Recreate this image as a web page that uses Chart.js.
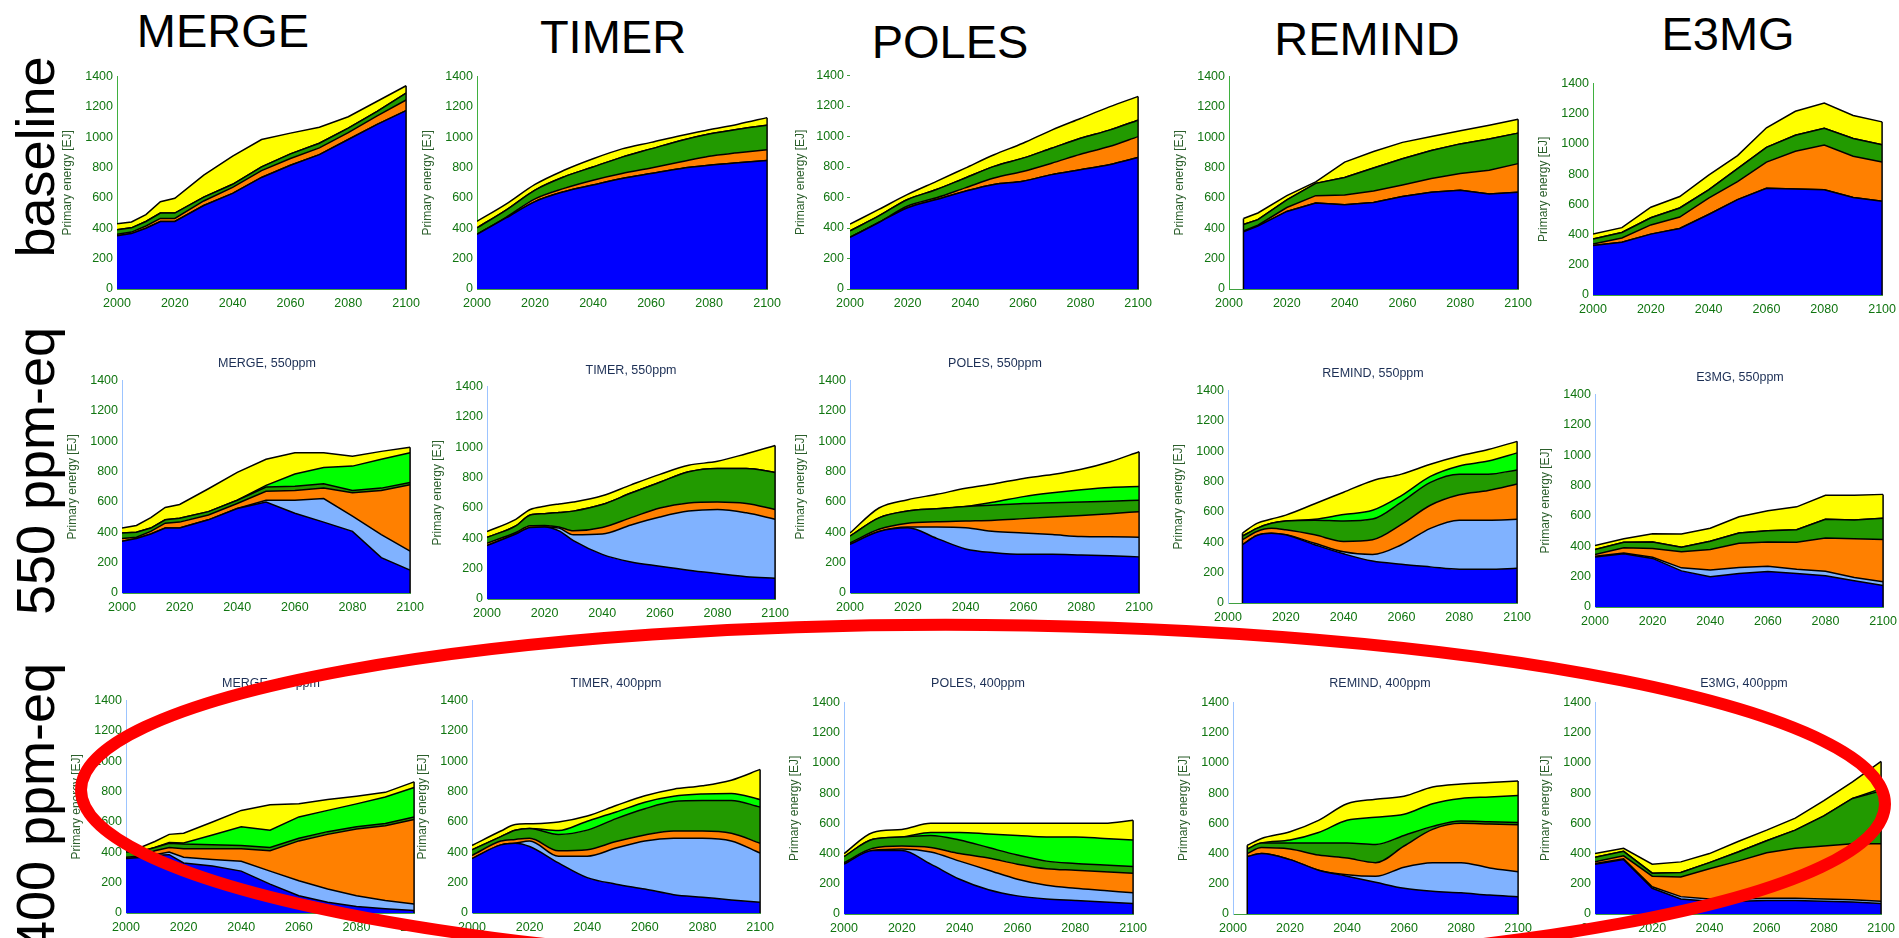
<!DOCTYPE html>
<html>
<head>
<meta charset="utf-8">
<script src="https://cdn.jsdelivr.net/npm/chart.js@4.4.1/dist/chart.umd.min.js"></script>
<style>
  html, body { margin: 0; padding: 0; background: #fff; }
  body { width: 1899px; height: 938px; overflow: hidden; position: relative;
         font-family: "Liberation Sans", Arial, Helvetica, sans-serif; }
  .col { position: absolute; font-size: 47px; line-height: 47px; color: #000;
         white-space: nowrap; transform: translateX(-50%); }
  .row { position: absolute; width: 400px; text-align: center; font-size: 54px;
         line-height: 54px; color: #000; white-space: nowrap;
         transform-origin: 0 0; transform: rotate(-90deg); }
  .sub { position: absolute; font-size: 12.5px; line-height: 14px; color: #1c2f55;
         white-space: nowrap; transform: translate(-50%, -50%); }
  .panel { position: absolute; }
  #ring { position: absolute; left: 0; top: 0; pointer-events: none; z-index: 5; }
</style>
</head>
<body>
<div class="col" style="left:223px;top:7px">MERGE</div>
<div class="col" style="left:613px;top:13px">TIMER</div>
<div class="col" style="left:950px;top:18px">POLES</div>
<div class="col" style="left:1367px;top:15px">REMIND</div>
<div class="col" style="left:1728px;top:10px">E3MG</div>

<div class="row" style="left:8px;top:357px">baseline</div>
<div class="row" style="left:8px;top:671px">550 ppm-eq</div>
<div class="row" style="left:8px;top:1007px">400 ppm-eq</div>

<div id="panels"></div>
<canvas id="ring" width="1899" height="938"></canvas>

<script>
// Primary energy by source [EJ/yr], stacked bottom to top:
// fossil, fossil with CCS, biomass, non-biomass renewables, biomass with CCS, nuclear

// ---------- MERGE, baseline ----------
const mergeBaseYears   = [2000,2005,2010,2015,2020,2030,2040,2050,2060,2070,2080,2090,2100];
const mergeBaseFossil  = [350,365,400,445,445,550,630,735,815,885,985,1085,1175];
const mergeBaseFosCcs  = [0,0,0,0,0,0,0,0,0,0,0,0,0];
const mergeBaseBiomass = [10,10,15,20,20,30,40,45,45,45,45,55,70];
const mergeBaseRenew   = [30,28,30,35,35,25,20,25,30,30,30,30,45];
const mergeBaseBioCcs  = [0,0,0,0,0,0,0,0,0,0,0,0,0];
const mergeBaseNuclear = [40,39,45,75,98,145,185,180,137,106,75,67,49];

// ---------- TIMER, baseline ----------
const timerBaseYears   = [2000,2010,2020,2030,2040,2050,2060,2070,2080,2090,2100];
const timerBaseFossil  = [360,468,576,641,685,728,761,793,815,832,847];
const timerBaseFosCcs  = [0,0,0,0,0,0,0,0,0,0,0];
const timerBaseBiomass = [0,4,18,22,32,33,36,43,60,65,70];
const timerBaseRenew   = [43,48,58,76,87,108,126,141,146,156,162];
const timerBaseBioCcs  = [0,0,0,0,0,0,0,0,0,0,0];
const timerBaseNuclear = [43,39,37,43,54,54,43,33,28,33,50];

// ---------- POLES, baseline ----------
const polesBaseYears   = [2000,2010,2020,2030,2040,2050,2060,2070,2080,2090,2100];
const polesBaseFossil  = [338,436,533,587,641,685,707,750,782,815,862];
const polesBaseFosCcs  = [0,0,0,0,0,0,0,0,0,0,0];
const polesBaseBiomass = [0,0,11,11,22,43,64,75,102,119,137];
const polesBaseRenew   = [43,43,43,54,65,76,87,98,104,108,108];
const polesBaseBioCcs  = [0,0,0,0,0,0,0,0,0,0,0];
const polesBaseNuclear = [44,43,33,54,65,76,98,119,130,152,156];

// ---------- REMIND, baseline ----------
const remindBaseYears   = [2005,2010,2020,2030,2040,2050,2060,2070,2080,2090,2100];
const remindBaseFossil  = [377,414,511,566,555,570,609,637,650,626,637];
const remindBaseFosCcs  = [0,0,0,0,0,0,0,0,0,0,0];
const remindBaseBiomass = [5,6,26,49,65,76,76,91,111,156,189];
const remindBaseRenew   = [43,37,50,81,115,151,173,184,195,206,201];
const remindBaseBioCcs  = [0,0,0,0,0,0,0,0,0,0,0];
const remindBaseNuclear = [39,44,28,10,101,109,108,93,86,91,91];

// ---------- E3MG, baseline ----------
const e3mgBaseYears   = [2000,2010,2020,2030,2040,2050,2060,2070,2080,2090,2100];
const e3mgBaseFossil  = [327,349,403,440,533,631,707,702,696,646,620];
const e3mgBaseFosCcs  = [0,0,0,0,0,0,0,0,0,0,0];
const e3mgBaseBiomass = [11,28,61,76,108,119,173,249,296,273,260];
const e3mgBaseRenew   = [33,37,47,60,55,86,97,106,111,117,115];
const e3mgBaseBioCcs  = [0,0,0,0,0,0,0,0,0,0,0];
const e3mgBaseNuclear = [32,32,70,76,97,87,130,159,167,152,151];

// ---------- MERGE, 550 ppm ----------
const merge550Years   = [2000,2005,2010,2015,2020,2030,2040,2050,2060,2070,2080,2090,2100];
const merge550Fossil  = [341,359,389,428,428,482,557,600,525,467,406,233,151];
const merge550FosCcs  = [0,0,0,0,0,0,0,11,86,155,100,152,125];
const merge550Biomass = [18,8,17,32,39,32,33,59,65,69,155,291,437];
const merge550Renew   = [36,33,22,22,25,22,21,28,28,28,15,15,15];
const merge550BioCcs  = [0,0,0,0,0,0,0,11,80,108,160,190,196];
const merge550Nuclear = [33,45,69,82,91,151,184,172,140,97,65,52,37];

// ---------- TIMER, 550 ppm ----------
const timer550Years   = [2000,2010,2015,2020,2025,2030,2040,2050,2060,2070,2080,2090,2100];
const timer550Fossil  = [352,428,471,475,449,384,294,244,216,190,168,147,136];
const timer550FosCcs  = [0,0,0,0,18,39,134,244,324,389,422,421,389];
const timer550Biomass = [15,10,11,10,8,26,43,48,60,54,49,61,65];
const timer550Renew   = [39,44,71,77,95,130,151,162,169,205,221,231,244];
const timer550BioCcs  = [0,0,0,0,0,0,0,0,0,0,0,0,0];
const timer550Nuclear = [39,43,37,49,56,60,58,54,52,43,47,97,177];

// ---------- POLES, 550 ppm ----------
const poles550Years   = [2000,2010,2020,2030,2040,2050,2060,2070,2080,2090,2100];
const poles550Fossil  = [320,405,430,360,290,265,255,255,250,245,238];
const poles550FosCcs  = [0,0,5,75,140,140,140,130,122,125,130];
const poles550Biomass = [10,15,25,35,45,75,95,115,138,152,168];
const poles550Renew   = [45,75,80,85,95,100,100,95,90,83,75];
const poles550BioCcs  = [0,0,0,0,0,20,45,65,80,90,90];
const poles550Nuclear = [20,65,75,95,120,120,120,120,135,170,230];

// ---------- REMIND, 550 ppm ----------
const remind550Years   = [2005,2010,2015,2020,2030,2040,2050,2060,2070,2080,2090,2100];
const remind550Fossil  = [384,445,460,449,384,324,276,255,238,222,222,229];
const remind550FosCcs  = [0,0,0,0,10,13,44,129,254,324,324,322];
const remind550Biomass = [33,26,32,33,55,69,97,134,152,167,195,233];
const remind550Renew   = [23,21,33,58,97,134,136,147,151,136,108,93];
const remind550BioCcs  = [0,0,0,0,5,43,58,43,39,54,86,112];
const remind550Nuclear = [20,33,28,39,103,147,195,141,80,65,76,76];

// ---------- E3MG, 550 ppm ----------
const e3mg550Years   = [2000,2010,2020,2030,2040,2050,2060,2070,2080,2090,2100];
const e3mg550Fossil  = [329,351,320,238,199,221,234,221,206,173,141];
const e3mg550FosCcs  = [5,5,8,20,45,40,35,28,30,22,25];
const e3mg550Biomass = [12,34,57,106,135,159,159,177,218,255,278];
const e3mg550Renew   = [33,36,43,30,54,67,74,83,124,123,140];
const e3mg550BioCcs  = [0,0,0,0,0,0,0,0,0,0,0];
const e3mg550Nuclear = [26,24,55,87,86,108,132,151,158,163,158];

// ---------- MERGE, 400 ppm ----------
const merge400Years   = [2000,2005,2010,2015,2020,2030,2040,2050,2060,2070,2080,2090,2100];
const merge400Fossil  = [359,365,380,384,330,309,276,190,114,71,43,28,17];
const merge400FosCcs  = [0,0,4,18,37,43,65,86,98,87,71,54,43];
const merge400Biomass = [8,10,26,30,56,71,82,134,263,360,439,493,556];
const merge400Renew   = [35,30,22,28,31,26,22,22,17,18,15,15,17];
const merge400BioCcs  = [0,0,0,5,8,65,123,114,141,140,151,174,194];
const merge400Nuclear = [26,27,39,53,63,86,108,167,86,71,50,31,37];

// ---------- TIMER, 400 ppm ----------
const timer400Years   = [2000,2010,2015,2020,2030,2040,2050,2060,2070,2080,2090,2100];
const timer400Fossil  = [359,449,460,438,330,233,190,158,121,104,86,71];
const timer400FosCcs  = [0,0,0,37,44,141,238,317,371,388,389,324];
const timer400Biomass = [20,25,25,17,36,43,43,39,48,48,50,65];
const timer400Renew   = [38,29,60,65,108,129,151,173,194,201,216,238];
const timer400BioCcs  = [0,0,0,0,25,59,43,43,35,43,47,49];
const timer400Nuclear = [28,37,38,31,57,34,43,43,47,54,87,199];

// ---------- POLES, 400 ppm ----------
const poles400Years   = [2000,2010,2020,2030,2040,2050,2060,2070,2080,2090,2100];
const poles400Fossil  = [330,420,420,330,230,160,120,100,90,80,70];
const poles400FosCcs  = [0,0,10,80,120,130,110,90,80,75,70];
const poles400Biomass = [10,15,20,30,50,80,100,110,120,125,130];
const poles400Renew   = [40,60,60,80,90,70,60,50,45,45,45];
const poles400BioCcs  = [0,0,0,20,50,90,130,160,175,175,175];
const poles400Nuclear = [20,45,50,60,60,70,80,90,90,100,130];

// ---------- REMIND, 400 ppm ----------
const remind400Years   = [2005,2010,2020,2030,2040,2050,2060,2070,2080,2090,2100];
const remind400Fossil  = [380,400,360,290,250,210,170,150,140,125,115];
const remind400FosCcs  = [0,0,0,0,10,40,140,190,200,180,165];
const remind400Biomass = [20,40,70,100,110,90,140,220,260,290,310];
const remind400Renew   = [30,30,40,80,100,120,70,20,15,15,15];
const remind400BioCcs  = [0,0,20,70,150,180,140,150,150,165,180];
const remind400Nuclear = [25,30,55,80,110,120,120,110,95,95,95];

// ---------- E3MG, 400 ppm ----------
const e3mg400Years   = [2000,2010,2020,2030,2040,2050,2060,2070,2080,2090,2100];
const e3mg400Fossil  = [330,360,170,100,85,85,90,90,85,80,70];
const e3mg400FosCcs  = [5,5,10,15,15,15,15,15,15,15,15];
const e3mg400Biomass = [10,20,70,130,200,250,300,330,350,370,380];
const e3mg400Renew   = [30,30,20,30,40,60,80,120,200,300,350];
const e3mg400BioCcs  = [0,0,0,0,0,0,0,0,0,0,15];
const e3mg400Nuclear = [25,20,60,70,60,70,70,80,100,110,180];

// Axis ticks
const xTicksStep = 20;   // 2000, 2020, ... 2100
const yTicksStep = 200;  // 0 ... 1400

// Layer fill colours (same order as the series)
const LAYER_COLORS = ['#0000ff', '#80b2ff', '#ff8000', '#229a00', '#00ff00', '#ffff00'];

// Panel layout: plot-area rectangle [left, top, right, bottom] in page pixels
const panels = [
  { years: mergeBaseYears,  series: [mergeBaseFossil, mergeBaseFosCcs, mergeBaseBiomass, mergeBaseRenew, mergeBaseBioCcs, mergeBaseNuclear], rect: [117, 73, 411, 289], smooth: false, row: 0 },
  { years: timerBaseYears,  series: [timerBaseFossil, timerBaseFosCcs, timerBaseBiomass, timerBaseRenew, timerBaseBioCcs, timerBaseNuclear], rect: [477, 73, 772, 289], smooth: true, row: 0 },
  { years: polesBaseYears,  series: [polesBaseFossil, polesBaseFosCcs, polesBaseBiomass, polesBaseRenew, polesBaseBioCcs, polesBaseNuclear], rect: [850, 73, 1143, 289], smooth: true, row: 0, tickMarks: true },
  { years: remindBaseYears, series: [remindBaseFossil, remindBaseFosCcs, remindBaseBiomass, remindBaseRenew, remindBaseBioCcs, remindBaseNuclear], rect: [1229, 73, 1523, 289], smooth: false, row: 0 },
  { years: e3mgBaseYears,   series: [e3mgBaseFossil, e3mgBaseFosCcs, e3mgBaseBiomass, e3mgBaseRenew, e3mgBaseBioCcs, e3mgBaseNuclear], rect: [1593, 80, 1887, 295], smooth: false, row: 0 },

  { title: 'MERGE, 550ppm',  tpos: [267, 363],  years: merge550Years,  series: [merge550Fossil, merge550FosCcs, merge550Biomass, merge550Renew, merge550BioCcs, merge550Nuclear], rect: [122, 377, 415, 593], smooth: false, row: 1 },
  { title: 'TIMER, 550ppm',  tpos: [631, 370],  years: timer550Years,  series: [timer550Fossil, timer550FosCcs, timer550Biomass, timer550Renew, timer550BioCcs, timer550Nuclear], rect: [487, 383, 780, 599], smooth: true, row: 1 },
  { title: 'POLES, 550ppm',  tpos: [995, 363],  years: poles550Years,  series: [poles550Fossil, poles550FosCcs, poles550Biomass, poles550Renew, poles550BioCcs, poles550Nuclear], rect: [850, 377, 1144, 593], smooth: true, row: 1 },
  { title: 'REMIND, 550ppm', tpos: [1373, 373], years: remind550Years, series: [remind550Fossil, remind550FosCcs, remind550Biomass, remind550Renew, remind550BioCcs, remind550Nuclear], rect: [1228, 387, 1522, 603], smooth: true, row: 1 },
  { title: 'E3MG, 550ppm',   tpos: [1740, 377], years: e3mg550Years,   series: [e3mg550Fossil, e3mg550FosCcs, e3mg550Biomass, e3mg550Renew, e3mg550BioCcs, e3mg550Nuclear], rect: [1595, 391, 1888, 607], smooth: false, row: 1 },

  { title: 'MERGE, 400ppm',  tpos: [271, 683],  years: merge400Years,  series: [merge400Fossil, merge400FosCcs, merge400Biomass, merge400Renew, merge400BioCcs, merge400Nuclear], rect: [126, 697, 419, 913], smooth: false, row: 2 },
  { title: 'TIMER, 400ppm',  tpos: [616, 683],  years: timer400Years,  series: [timer400Fossil, timer400FosCcs, timer400Biomass, timer400Renew, timer400BioCcs, timer400Nuclear], rect: [472, 697, 765, 913], smooth: true, row: 2 },
  { title: 'POLES, 400ppm',  tpos: [978, 683],  years: poles400Years,  series: [poles400Fossil, poles400FosCcs, poles400Biomass, poles400Renew, poles400BioCcs, poles400Nuclear], rect: [844, 699, 1138, 914], smooth: true, row: 2 },
  { title: 'REMIND, 400ppm', tpos: [1380, 683], years: remind400Years, series: [remind400Fossil, remind400FosCcs, remind400Biomass, remind400Renew, remind400BioCcs, remind400Nuclear], rect: [1233, 699, 1523, 914], smooth: true, row: 2 },
  { title: 'E3MG, 400ppm',   tpos: [1744, 683], years: e3mg400Years,   series: [e3mg400Fossil, e3mg400FosCcs, e3mg400Biomass, e3mg400Renew, e3mg400BioCcs, e3mg400Nuclear], rect: [1595, 699, 1886, 914], smooth: false, row: 2 }
];

const FONT = '"Liberation Sans", Arial, Helvetica, sans-serif';
const TICK_COLOR = '#107510';
const YW = 57, PT = 8, PR = 16, XH = 26;   // y-axis width, top/right padding, x-axis height

// Black outline down the open ends of the stacked area
const areaEdges = {
  id: 'areaEdges',
  afterDatasetsDraw(chart) {
    const n = chart.data.datasets.length;
    const pts = chart.getDatasetMeta(n - 1).data;
    if (!pts.length) return;
    const y0 = chart.scales.y.getPixelForValue(0);
    const ctx = chart.ctx;
    ctx.save();
    ctx.strokeStyle = '#000';
    ctx.lineWidth = 1.5;
    const last = pts[pts.length - 1];
    ctx.beginPath(); ctx.moveTo(last.x, y0); ctx.lineTo(last.x, last.y); ctx.stroke();
    const first = pts[0];
    if (first.x > chart.chartArea.left + 2) {
      ctx.beginPath(); ctx.moveTo(first.x, y0); ctx.lineTo(first.x, first.y); ctx.stroke();
    }
    ctx.restore();
  }
};

const host = document.getElementById('panels');

panels.forEach(p => {
  const [l, t, r, b] = p.rect;
  const w = (r - l) + YW + PR;
  const h = (b - t) + PT + XH;
  const box = document.createElement('div');
  box.className = 'panel';
  box.style.left = (l - YW) + 'px';
  box.style.top = (t - PT) + 'px';
  box.style.width = w + 'px';
  box.style.height = h + 'px';
  const cv = document.createElement('canvas');
  cv.width = w; cv.height = h;
  box.appendChild(cv);
  host.appendChild(box);

  if (p.title) {
    const s = document.createElement('div');
    s.className = 'sub';
    s.textContent = p.title;
    s.style.left = p.tpos[0] + 'px';
    s.style.top = p.tpos[1] + 'px';
    host.appendChild(s);
  }

  const datasets = p.series.map((vals, i) => ({
    data: p.years.map((yr, k) => ({ x: yr, y: vals[k] })),
    backgroundColor: LAYER_COLORS[i],
    borderColor: '#000',
    borderWidth: 1.5,
    fill: i === 0 ? 'origin' : '-1',
    pointRadius: 0,
    cubicInterpolationMode: p.smooth ? 'monotone' : 'default',
    tension: 0
  }));

  const yAxisColor = p.row === 0 ? '#3fb03f' : '#9cc4ff';

  new Chart(cv, {
    type: 'line',
    data: { datasets },
    plugins: [areaEdges],
    options: {
      responsive: false,
      animation: false,
      devicePixelRatio: 1,
      layout: { padding: { left: 0, top: PT, right: PR, bottom: 0 } },
      plugins: { legend: { display: false }, tooltip: { enabled: false }, title: { display: false } },
      scales: {
        x: {
          type: 'linear', min: 2000, max: 2100,
          ticks: { stepSize: xTicksStep, color: TICK_COLOR, font: { family: FONT, size: 12.5 }, padding: 7,
                   maxRotation: 0, autoSkip: false, callback: v => String(v) },
          grid: { display: false, drawTicks: false },
          border: { display: true, color: '#3fa03f', width: 1 },
          afterFit(s) { s.height = XH; }
        },
        y: {
          stacked: true, min: 0, max: 1400,
          ticks: { stepSize: yTicksStep, color: TICK_COLOR, font: { family: FONT, size: 12.5 }, padding: p.tickMarks ? 3 : 4,
                   callback: v => String(v) },
          grid: p.tickMarks
            ? { display: true, drawOnChartArea: false, drawTicks: true, tickLength: 3, color: '#3fa03f' }
            : { display: false, drawTicks: false },
          border: { display: !p.tickMarks, color: yAxisColor, width: 1 },
          title: { display: true, text: 'Primary energy [EJ]', color: '#2b5e2b',
                   font: { family: FONT, size: 12 }, padding: { top: 0, bottom: 0 } },
          afterFit(s) { s.width = YW; }
        }
      }
    }
  });
});

// Red highlight ring round the 400 ppm-eq row
const rc = document.getElementById('ring').getContext('2d');
rc.strokeStyle = '#ff0000';
rc.lineWidth = 12;
rc.beginPath();
rc.ellipse(983, 797, 902, 172, 0.008, 0, Math.PI * 2);
rc.stroke();
</script>
</body>
</html>
